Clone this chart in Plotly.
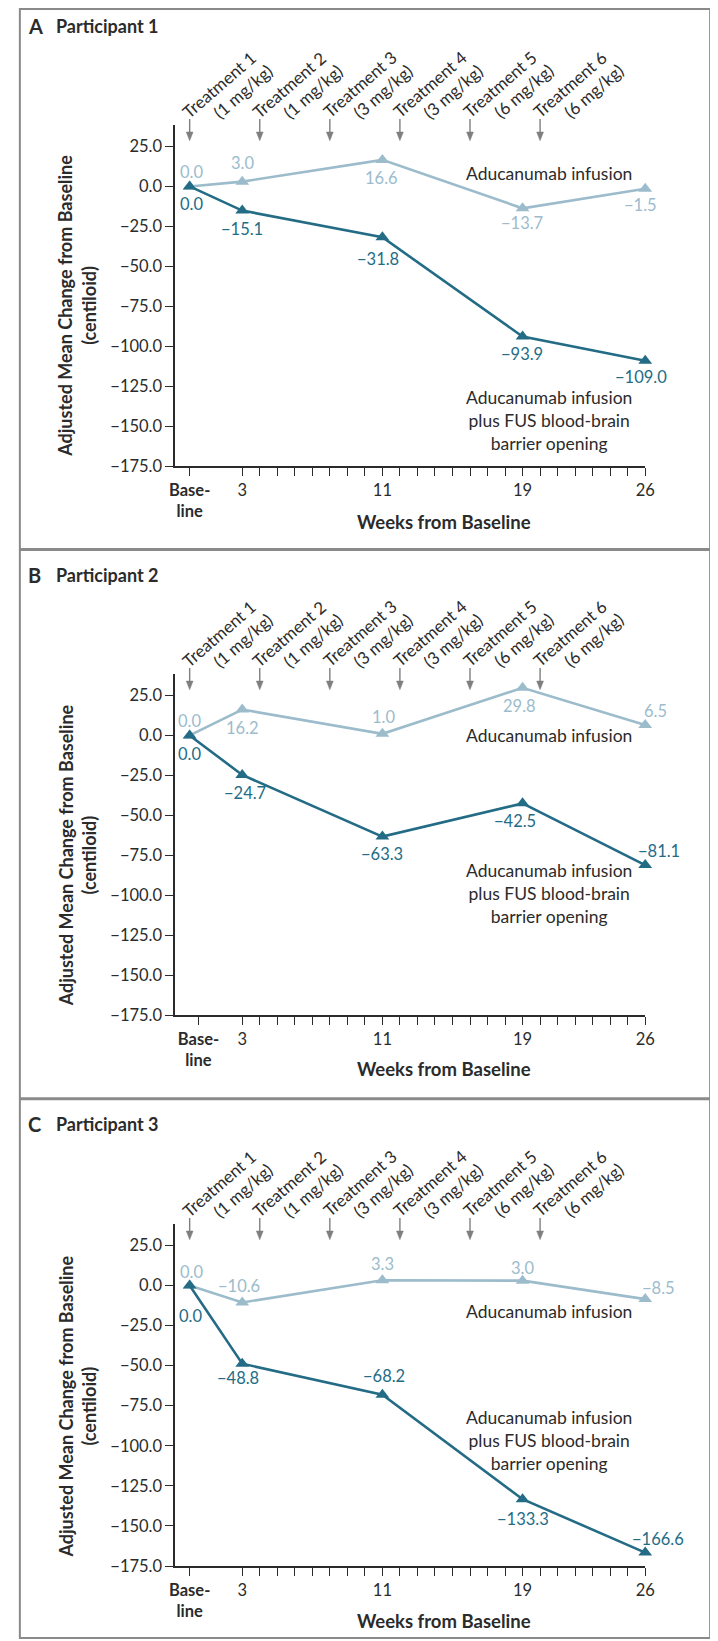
import plotly.graph_objects as go

W, H = 718, 1641

# ---------------- data ----------------
weeks = [0, 3, 11, 19, 26]
treat_weeks = [0, 4, 8, 12, 16, 20]
treat_names = ["Treatment 1", "Treatment 2", "Treatment 3", "Treatment 4", "Treatment 5", "Treatment 6"]
treat_doses = ["(1 mg/kg)", "(1 mg/kg)", "(3 mg/kg)", "(3 mg/kg)", "(6 mg/kg)", "(6 mg/kg)"]

panel_letters = ["A", "B", "C"]
panel_titles = ["Participant 1", "Participant 2", "Participant 3"]

adu_p1 = [0.0, 3.0, 16.6, -13.7, -1.5]
fus_p1 = [0.0, -15.1, -31.8, -93.9, -109.0]
adu_p2 = [0.0, 16.2, 1.0, 29.8, 6.5]
fus_p2 = [0.0, -24.7, -63.3, -42.5, -81.1]
adu_p3 = [0.0, -10.6, 3.3, 3.0, -8.5]
fus_p3 = [0.0, -48.8, -68.2, -133.3, -166.6]

adu_name = "Aducanumab infusion"
fus_name = "Aducanumab infusion<br>plus FUS blood-brain<br>barrier opening"

y_tickvals = [25, 0, -25, -50, -75, -100, -125, -150, -175]
x_major = {3: "3", 11: "11", 19: "19", 26: "26"}
baseline_label = "<b>Base-</b><br><b>line</b>"
x_title = "Weeks from Baseline"
y_title = "Adjusted Mean Change from Baseline<br>(centiloid)"

# ---------------- styles / layout geometry (pixels) ----------------
DARK = "#246c86"
LIGHT = "#9cbccc"
TXT = "#2b2b2b"
FONT = "Lato"

# label offsets (dx, dy) in screen px relative to the point (dy>0 = below)
adu_off = [
    [(2, -13.5), (0, -17.5), (-1, 19.5), (-1, 15.5), (-5, 17)],
    [(0, -13.5), (0, 19.5), (1, -15.5), (-3, 19.5), (10, -13)],
    [(2, -12), (-3, -15.5), (0, -15.5), (0, -11.5), (13.5, -10.5)],
]
fus_off = [
    [(2, 19), (0, 19.5), (-4, 23), (-1, 18.5), (-4, 17.5)],
    [(0, 20), (3, 19.5), (0, 18), (-8, 18.5), (14, -13)],
    [(1, 32), (-4, 15), (1.5, -17.5), (0, 21), (13, -12.5)],
]
adu_lab_pos = [(20.5, 8.0), (20.5, 0.0), (20.5, -16.2)]
fus_lab_pos = [(20.5, -146.2), (20.5, -99.0), (20.5, -96.7)]

# per panel pixel geometry
y_top_px = [117.6, 670.0, 1223.2]     # y = 38.5
y_bot_px = [461.0, 1013.3, 1567.6]    # y = -175
tick25_px = [139.3, 691.7, 1245.0]
title_px = [18.0, 570.0, 1122.7]
xtitle_px = [516.7, 1068.0, 1622.7]
ytitle_px = [299.5, 852.5, 1407.0]
baseline_tick = [0, 0.5, 0]
X_L, X_R = 164.8, 645.6
Y_RANGE = [-175, 38.5]
X_RANGE = [-0.83, 26]


def fx(p):
    return p / W


def fy(p):
    return 1 - p / H


def fmt(v):
    return f"{v:.1f}".replace("-", "\u2212")


fig = go.Figure()
annotations = []
shapes = []

series = [(adu_p1, fus_p1), (adu_p2, fus_p2), (adu_p3, fus_p3)]

for i, (adu, fus) in enumerate(series):
    n = "" if i == 0 else str(i + 1)
    xa, ya = "x" + n, "y" + n
    for vals, col in ((adu, LIGHT), (fus, DARK)):
        fig.add_trace(go.Scatter(
            x=weeks, y=vals, xaxis=xa, yaxis=ya, mode="lines+markers",
            line=dict(color=col, width=2.6),
            marker=dict(symbol="triangle-up", size=12, color=col),
            showlegend=False, hoverinfo="skip", cliponaxis=False,
        ))
    # value labels
    for vals, col, offs in ((adu, LIGHT, adu_off[i]), (fus, DARK, fus_off[i])):
        for w, v, (dx, dy) in zip(weeks, vals, offs):
            annotations.append(dict(
                x=w, y=v, xref=xa, yref=ya, text=fmt(v), showarrow=False,
                xanchor="center", yanchor="middle", xshift=dx, yshift=-dy + 1,
                font=dict(family=FONT, size=16.5, color=col),
            ))
    # series labels
    annotations.append(dict(
        x=adu_lab_pos[i][0], y=adu_lab_pos[i][1], xref=xa, yref=ya, text=adu_name,
        showarrow=False, xanchor="center", yanchor="middle",
        font=dict(family=FONT, size=17.5, color=TXT),
    ))
    annotations.append(dict(
        x=fus_lab_pos[i][0], y=fus_lab_pos[i][1], xref=xa, yref=ya, text=fus_name,
        showarrow=False, xanchor="center", yanchor="middle", align="center",
        font=dict(family=FONT, size=17.5, color=TXT),
    ))
    # axes
    tickvals = [baseline_tick[i]] + list(range(3, 27))
    ticktext = [baseline_label] + [x_major.get(t, "") for t in range(3, 27)]
    dom_y = [fy(y_bot_px[i]), fy(y_top_px[i])]
    fig.layout["xaxis" + n] = dict(
        domain=[fx(X_L), fx(X_R)], range=X_RANGE, anchor=ya,
        tickmode="array", tickvals=tickvals, ticktext=ticktext,
        ticks="outside", ticklen=8, tickwidth=1.3, tickcolor=TXT,
        showline=True, linecolor=TXT, linewidth=1.5, showgrid=False, zeroline=False,
        tickfont=dict(family=FONT, size=16.5, color=TXT), tickangle=0,
    )
    fig.layout["yaxis" + n] = dict(
        domain=dom_y, range=Y_RANGE, anchor=xa,
        tickmode="array", tickvals=y_tickvals, ticktext=[fmt(v) for v in y_tickvals],
        ticks="outside", ticklen=8, tickwidth=1.3, tickcolor=TXT,
        showline=True, linecolor=TXT, linewidth=1.5, showgrid=False, zeroline=False,
        tickfont=dict(family=FONT, size=16.5, color=TXT),
    )
    # panel title
    annotations.append(dict(
        x=fx(12.5), y=fy(title_px[i]), xref="paper", yref="paper", text="<b>" + panel_letters[i] + "</b>",
        showarrow=False, xanchor="left", yanchor="middle",
        font=dict(family=FONT, size=20, color=TXT),
    ))
    annotations.append(dict(
        x=fx(41), y=fy(title_px[i]), xref="paper", yref="paper", text="<b>" + panel_titles[i] + "</b>",
        showarrow=False, xanchor="left", yanchor="middle",
        font=dict(family=FONT, size=18, color=TXT),
    ))
    # axis titles
    annotations.append(dict(
        x=fx(439.6), y=fy(xtitle_px[i]), xref="paper", yref="paper", text="<b>" + x_title + "</b>",
        showarrow=False, xanchor="center", yanchor="middle",
        font=dict(family=FONT, size=18.5, color=TXT),
    ))
    annotations.append(dict(
        x=fx(64.5), y=fy(ytitle_px[i]), xref="paper", yref="paper", text="<b>" + y_title + "</b>",
        showarrow=False, xanchor="center", yanchor="middle", textangle=-90, align="center",
        font=dict(family=FONT, size=18, color=TXT),
    ))
    # treatment arrows and labels
    t25 = tick25_px[i]
    for w, nm, ds in zip(treat_weeks, treat_names, treat_doses):
        annotations.append(dict(
            x=w, y=fy(t25 - 62.3), xref=xa, yref="paper", text=nm, showarrow=False,
            xanchor="center", yanchor="middle", xshift=29.7, textangle=-41,
            font=dict(family=FONT, size=17, color=TXT),
        ))
        annotations.append(dict(
            x=w, y=fy(t25 - 55.6), xref=xa, yref="paper", text=ds, showarrow=False,
            xanchor="center", yanchor="middle", xshift=53, textangle=-41,
            font=dict(family=FONT, size=17, color=TXT),
        ))
        shapes.append(dict(
            type="line", xref=xa, yref="paper", xsizemode="pixel", xanchor=w,
            x0=0, x1=0, y0=fy(t25 - 27.6), y1=fy(t25 - 14.0),
            line=dict(color="#7f7f7f", width=1.4),
        ))
        shapes.append(dict(
            type="path", xref=xa, yref="paper", xsizemode="pixel", xanchor=w,
            path=f"M-3.4,{fy(t25 - 14.5)} L3.4,{fy(t25 - 14.5)} L0,{fy(t25 - 5.8)} Z",
            fillcolor="#7f7f7f", line=dict(color="#7f7f7f", width=0.5),
        ))

# frame
FR = "#8a8a8a"
shapes.append(dict(type="rect", xref="paper", yref="paper",
                   x0=fx(6), x1=fx(712), y0=fy(1640), y1=fy(1),
                   line=dict(color=FR, width=2)))
for yy in (544.7, 1097.5):
    shapes.append(dict(type="line", xref="paper", yref="paper",
                       x0=fx(6), x1=fx(712), y0=fy(yy), y1=fy(yy),
                       line=dict(color=FR, width=3)))

fig.update_layout(
    width=W, height=H, margin=dict(l=0, r=0, t=0, b=0),
    paper_bgcolor="white", plot_bgcolor="white",
    annotations=annotations, shapes=shapes,
    font=dict(family=FONT, color=TXT),
)

fig.write_html("out.html")
